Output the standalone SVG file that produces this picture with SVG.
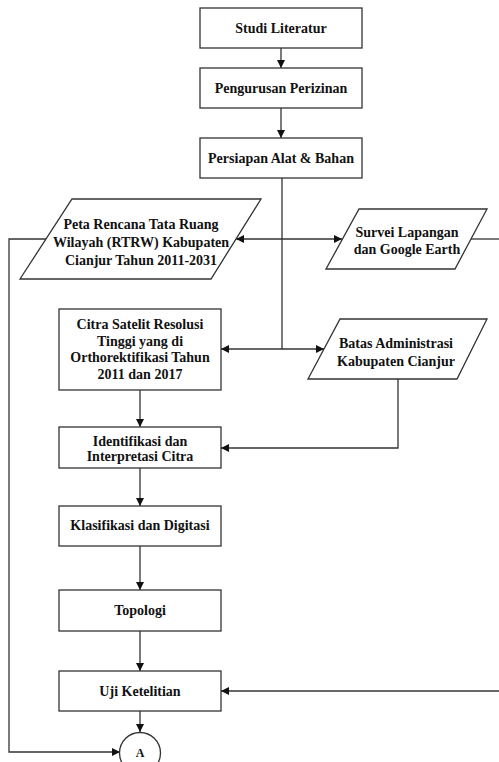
<svg xmlns="http://www.w3.org/2000/svg" width="499" height="762" viewBox="0 0 499 762">
<defs>
<marker id="ah" viewBox="0 0 10 10" refX="10" refY="5" markerWidth="8" markerHeight="8" markerUnits="userSpaceOnUse" orient="auto">
<path d="M0,0 L10,5 L0,10 z" fill="#111"/>
</marker>
</defs>
<style>
.n{fill:#fff;stroke:#333;stroke-width:1.3}
.c{fill:none;stroke:#333;stroke-width:1.3}
.a{marker-end:url(#ah)}
.t{font-family:'Liberation Serif','Times New Roman',Tinos,'DejaVu Serif',serif;font-weight:700;font-size:14px;fill:#111;text-anchor:middle}
</style>
<rect width="499" height="762" fill="#fff"/>
<g id="connectors">
<line class="c a" x1="281" y1="48" x2="281" y2="68"/>
<line class="c a" x1="281" y1="108" x2="281" y2="138"/>
<line class="c" x1="282" y1="178" x2="282" y2="349"/>
<line class="c a" x1="282" y1="239" x2="236" y2="239"/>
<line class="c a" x1="282" y1="239" x2="342" y2="239"/>
<line class="c a" x1="282" y1="349" x2="221" y2="349"/>
<line class="c a" x1="282" y1="349" x2="324" y2="349"/>
<line class="c" x1="471" y1="239" x2="499" y2="239"/>
<polyline class="c a" points="398,379 398,448 221,448"/>
<line class="c a" x1="499" y1="691" x2="221" y2="691"/>
<polyline class="c a" points="46,239 9,239 9,752 120,752"/>
<line class="c a" x1="140" y1="390" x2="140" y2="427"/>
<line class="c a" x1="140" y1="468" x2="140" y2="506"/>
<line class="c a" x1="140" y1="546" x2="140" y2="590"/>
<line class="c a" x1="140" y1="631" x2="140" y2="671"/>
<line class="c a" x1="140" y1="711" x2="140" y2="732"/>
</g>
<g id="studi">
<rect class="n" x="200" y="8" width="162" height="40"/>
<text class="t" x="281" y="33">Studi Literatur</text>
</g>
<g id="pengurusan">
<rect class="n" x="200" y="68" width="162" height="40"/>
<text class="t" x="281" y="93">Pengurusan Perizinan</text>
</g>
<g id="persiapan">
<rect class="n" x="200" y="138" width="162" height="40"/>
<text class="t" x="281" y="163">Persiapan Alat &amp; Bahan</text>
</g>
<g id="peta">
<polygon class="n" points="72,199 261,199 211,279 20,279"/>
<text class="t" x="141" y="229">Peta Rencana Tata Ruang</text>
<text class="t" x="141" y="247">Wilayah (RTRW) Kabupaten</text>
<text class="t" x="141" y="265">Cianjur Tahun 2011-2031</text>
</g>
<g id="survei">
<polygon class="n" points="359,209 487,209 455,269 326,269"/>
<text class="t" x="407" y="237">Survei Lapangan</text>
<text class="t" x="407" y="254">dan Google Earth</text>
</g>
<g id="citra">
<rect class="n" x="59" y="309" width="162" height="81"/>
<text class="t" x="140" y="329">Citra Satelit Resolusi</text>
<text class="t" x="140" y="346">Tinggi yang di</text>
<text class="t" x="140" y="362">Orthorektifikasi Tahun</text>
<text class="t" x="140" y="379">2011 dan 2017</text>
</g>
<g id="batas">
<polygon class="n" points="340,319 487,319 457,379 308,379"/>
<text class="t" x="396" y="348">Batas Administrasi</text>
<text class="t" x="396" y="366">Kabupaten Cianjur</text>
</g>
<g id="identifikasi">
<rect class="n" x="59" y="427" width="162" height="41"/>
<text class="t" x="140" y="446">Identifikasi dan</text>
<text class="t" x="140" y="461">Interpretasi Citra</text>
</g>
<g id="klasifikasi">
<rect class="n" x="59" y="506" width="162" height="40"/>
<text class="t" x="140" y="530">Klasifikasi dan Digitasi</text>
</g>
<g id="topologi">
<rect class="n" x="59" y="590" width="162" height="41"/>
<text class="t" x="140" y="615">Topologi</text>
</g>
<g id="uji">
<rect class="n" x="59" y="671" width="162" height="40"/>
<text class="t" x="140" y="696">Uji Ketelitian</text>
</g>
<g id="a">
<circle class="n" cx="140" cy="753" r="20.5"/>
<text class="t" x="140" y="757" style="font-size:12px">A</text>
</g>
</svg>
